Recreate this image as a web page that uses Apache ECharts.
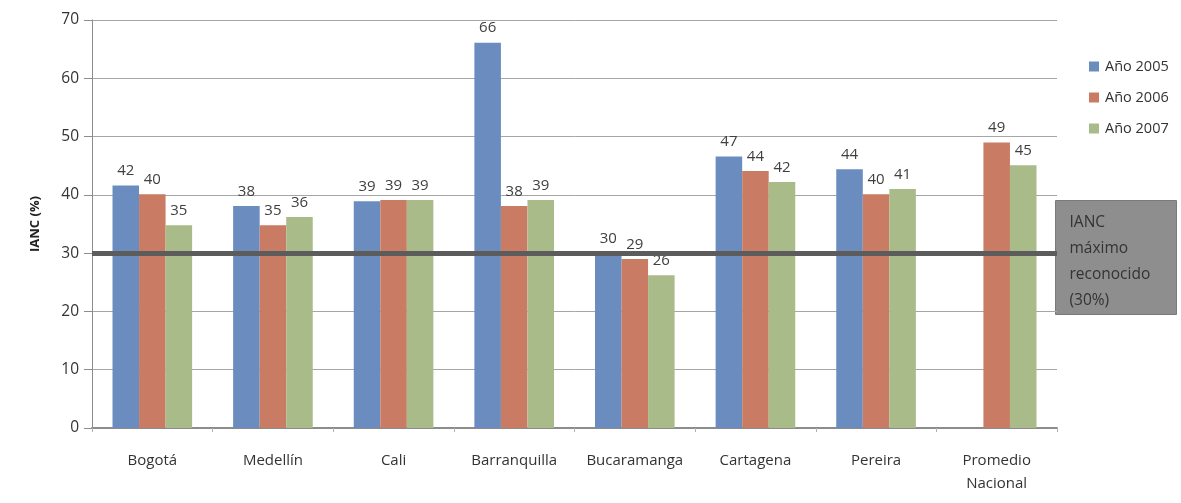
<!DOCTYPE html>
<html>
<head>
<meta charset="utf-8">
<script src="https://cdn.jsdelivr.net/npm/echarts@6/dist/echarts.min.js"></script>
<style>html,body{margin:0;padding:0;background:#fff;}#c{width:1181px;height:503px;}</style>
</head>
<body>
<div id="c"></div>
<script>
const categories = ['Bogotá', 'Medellín', 'Cali', 'Barranquilla', 'Bucaramanga', 'Cartagena', 'Pereira', 'Promedio\nNacional'];
const seriesNames = ['Año 2005', 'Año 2006', 'Año 2007'];
const values2005 = [41.6, 38.1, 38.9, 66.1, 30.0, 46.6, 44.4, null];
const values2006 = [40.1, 34.8, 39.1, 38.1, 29.0, 44.1, 40.1, 49.0];
const values2007 = [34.8, 36.2, 39.1, 39.1, 26.2, 42.2, 41.0, 45.1];
const thresholdValue = 30;
const thresholdLines = ['IANC', 'máximo', 'reconocido', '(30%)'];
const yTicks = [0, 10, 20, 30, 40, 50, 60, 70];

const colors = ['#6a8cbf', '#c97b64', '#a9bb88'];
const font = 'Open Sans';

const chart = echarts.init(document.getElementById('c'), null, {renderer: 'canvas'});

function barSeries(name, data, color, withLine) {
  const s = {
    name: name,
    type: 'bar',
    data: data,
    barGap: '0%',
    barCategoryGap: '34%',
    itemStyle: {color: color},
    label: {
      show: true,
      position: 'top',
      distance: 7,
      color: '#404040',
      fontFamily: font,
      fontSize: 15,
      formatter: p => p.value == null ? '' : Math.round(p.value)
    }
  };
  if (withLine) {
    s.markLine = {
      silent: true,
      symbol: 'none',
      label: {show: false},
      lineStyle: {color: '#5c5c5c', width: 5, type: 'solid'},
      data: [{yAxis: thresholdValue}],
      z: 10
    };
  }
  return s;
}

chart.setOption({
  animation: false,
  backgroundColor: '#ffffff',
  textStyle: {fontFamily: font},
  grid: {left: 92, right: 124, top: 20, bottom: 75},
  legend: {
    orient: 'vertical',
    left: 1084,
    top: 54,
    itemWidth: 10,
    itemHeight: 10,
    itemGap: 16,
    icon: 'rect',
    textStyle: {color: '#333', fontSize: 14.5, fontFamily: font, padding: [0, 0, 0, 1]},
    data: seriesNames
  },
  xAxis: {
    type: 'category',
    data: categories,
    boundaryGap: true,
    axisLine: {lineStyle: {color: '#8c8c8c', width: 2}},
    axisTick: {show: true, length: 4, lineStyle: {color: '#b0b0b0'}},
    axisLabel: {color: '#333', fontSize: 15, fontFamily: font, margin: 21, lineHeight: 23, interval: 0}
  },
  yAxis: {
    type: 'value',
    min: 0,
    max: 70,
    interval: 10,
    name: 'IANC (%)',
    nameLocation: 'middle',
    nameGap: 50,
    nameTextStyle: {color: '#222', fontSize: 13, fontWeight: 'bold', fontFamily: font},
    axisLine: {show: true, lineStyle: {color: '#8c8c8c'}},
    axisTick: {show: true, length: 8, lineStyle: {color: '#8c8c8c'}},
    axisLabel: {color: '#333', fontSize: 15.5, fontFamily: font, margin: 13,
      formatter: v => yTicks.includes(v) ? String(v) : ''},
    splitLine: {lineStyle: {color: '#a6a6a6', width: 1}}
  },
  graphic: [{
    type: 'group',
    left: 1055,
    top: 200,
    children: [
      {type: 'rect', shape: {x: 0, y: 0, width: 121, height: 114},
       style: {fill: '#8e8e8e', stroke: '#7a7a7a', lineWidth: 1}},
      {type: 'text', left: 14, top: 9,
       style: {text: thresholdLines.join('\n'), fill: '#333', fontSize: 15.5, fontFamily: font, lineHeight: 26}}
    ]
  }],
  series: [
    barSeries(seriesNames[0], values2005, colors[0], true),
    barSeries(seriesNames[1], values2006, colors[1], false),
    barSeries(seriesNames[2], values2007, colors[2], false)
  ]
});
</script>
</body>
</html>
